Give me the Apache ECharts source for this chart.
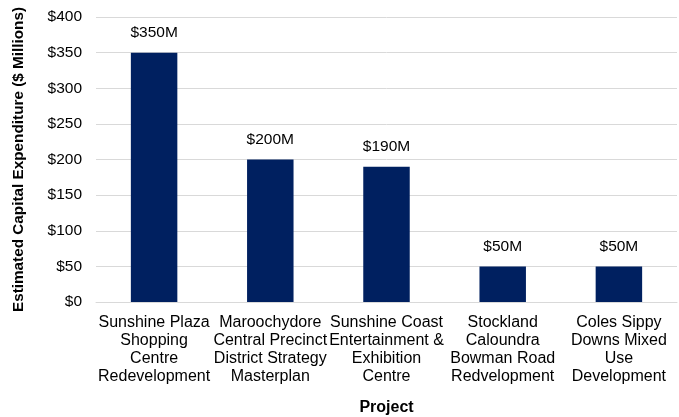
<!DOCTYPE html>
<html><head><meta charset="utf-8">
<script src="https://cdn.jsdelivr.net/npm/echarts@6/dist/echarts.min.js"></script>
<style>html,body{margin:0;padding:0;background:#fff}#c{width:679px;height:417px}</style>
</head><body><div id="c"></div>
<script>
const categories = [
  "Sunshine Plaza\nShopping\nCentre\nRedevelopment",
  "Maroochydore\nCentral Precinct\nDistrict Strategy\nMasterplan",
  "Sunshine Coast\nEntertainment &\nExhibition\nCentre",
  "Stockland\nCaloundra\nBowman Road\nRedvelopment",
  "Coles Sippy\nDowns Mixed\nUse\nDevelopment"
];
const values = [350, 200, 190, 50, 50];
const yTicks = { min: 0, max: 400, interval: 50 };

const chart = echarts.init(document.getElementById('c'), null, {renderer: 'canvas'});
const font = 'Liberation Sans, Arial, sans-serif';
chart.setOption({
  animation: false,
  textStyle: { fontFamily: font },
  grid: { left: 96, right: 2, top: 17, bottom: 115, containLabel: false, outerBoundsMode: 'none' },
  xAxis: {
    type: 'category',
    data: categories,
    name: 'Project',
    nameLocation: 'middle',
    nameGap: 98,
    nameTextStyle: { fontSize: 16, fontWeight: 'bold', color: '#000', fontFamily: font },
    axisLine: { lineStyle: { color: '#d9d9d9', width: 1 } },
    axisTick: { show: false },
    axisLabel: { interval: 0, fontSize: 16, lineHeight: 18, color: '#000', margin: 12, fontFamily: font }
  },
  yAxis: {
    type: 'value',
    min: yTicks.min, max: yTicks.max, interval: yTicks.interval,
    name: 'Estimated Capital Expenditure ($ Millions)',
    nameLocation: 'middle',
    nameGap: 70,
    nameRotate: 90,
    nameTextStyle: { fontSize: 15.3, fontWeight: 'bold', color: '#000', fontFamily: font },
    axisLabel: { formatter: v => '$' + v, fontSize: 15.5, color: '#000', margin: 14, fontFamily: font },
    splitLine: { lineStyle: { color: '#d9d9d9', width: 1 } },
    axisLine: { show: false },
    axisTick: { show: false }
  },
  series: [{
    type: 'bar',
    data: values,
    barWidth: '40%',
    itemStyle: { color: '#002060' },
    label: {
      show: true, position: 'top', distance: 12,
      formatter: p => '$' + p.value + 'M',
      fontSize: 15.5, color: '#000', fontFamily: font
    }
  }]
});
</script></body></html>
